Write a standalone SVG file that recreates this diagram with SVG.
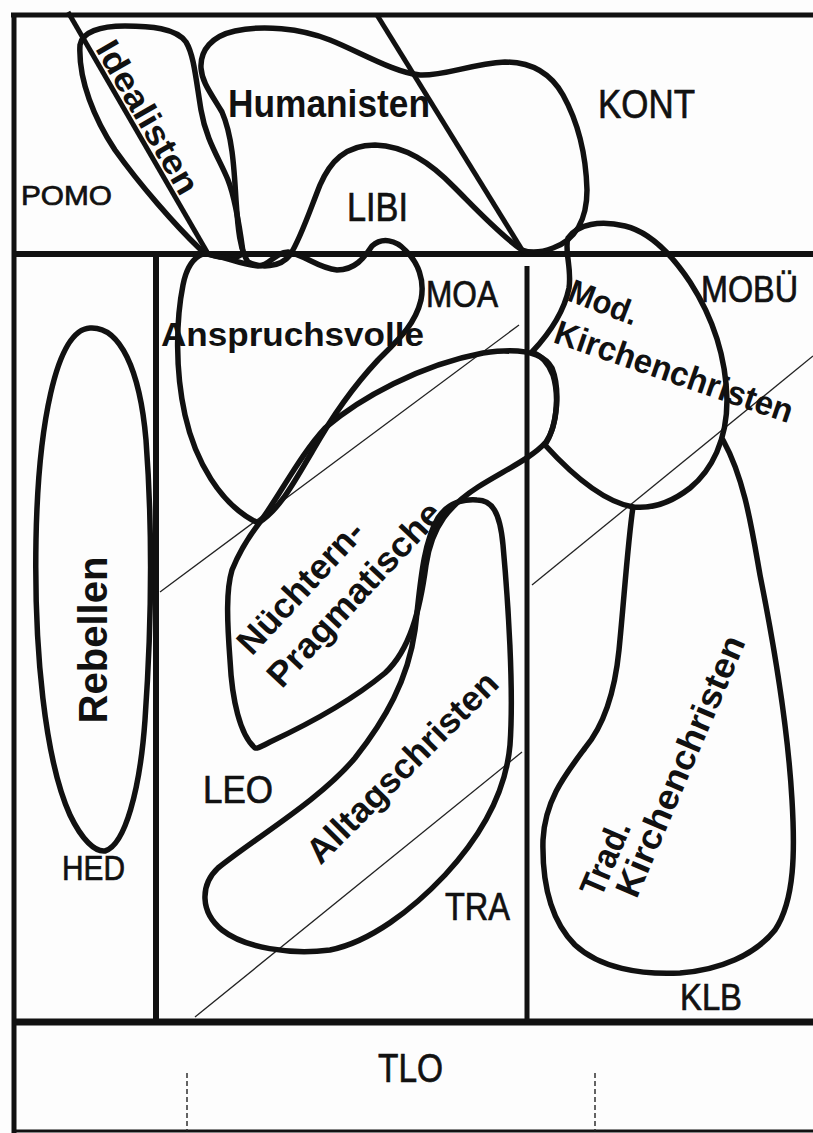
<svg xmlns="http://www.w3.org/2000/svg" width="813" height="1133" viewBox="0 0 813 1133">
<style>
.ln{stroke:#111;fill:none}
.sh{fill:none;stroke:#111;stroke-width:5.5;stroke-linejoin:round;stroke-linecap:round}
.thin{stroke:#222;stroke-width:1.3;fill:none}
.dash{stroke:#222;stroke-width:1.4;stroke-dasharray:5 3;fill:none}
.t{font-family:"Liberation Sans",Arial,sans-serif;fill:#111}
.r{stroke:#111;stroke-width:0.7}
.b{font-weight:bold}
</style>
<rect width="813" height="1133" fill="#fdfdfd"/>
<g id="frame">
<line class="ln" x1="11" y1="15" x2="813" y2="15" stroke-width="5"/>
<line class="ln" x1="14" y1="13" x2="14" y2="1133" stroke-width="5"/>
<line class="ln" x1="14" y1="254" x2="813" y2="254" stroke-width="6"/>
<line class="ln" x1="14" y1="1022" x2="813" y2="1022" stroke-width="7"/>
<line class="ln" x1="14" y1="1131" x2="813" y2="1131" stroke-width="3"/>
<line class="ln" x1="156" y1="254" x2="156" y2="1022" stroke-width="6"/>
<line class="ln" x1="527" y1="266" x2="527" y2="1022" stroke-width="5"/>
<line class="dash" x1="187" y1="1073" x2="187" y2="1131"/>
<line class="dash" x1="595" y1="1073" x2="595" y2="1131"/>
</g>
<g id="connectors">
<line class="thin" x1="160" y1="592" x2="519" y2="325"/>
<line class="thin" x1="195" y1="1017" x2="522" y2="752"/>
<line class="thin" x1="532" y1="585" x2="813" y2="356"/>
<line class="ln" x1="68" y1="12" x2="207" y2="252" stroke-width="5"/>
<line class="ln" x1="377" y1="15" x2="524" y2="253" stroke-width="5"/>
</g>
<g id="idealisten">
<path class="sh" d="M 80,45 C 82,32 100,26 125,26 C 150,26 176,28 186,42 C 194,55 196,80 201,110 C 206,140 220,160 228,180 C 236,200 240,230 243,252 C 240,260 215,260 200,249 C 175,225 140,185 115,150 C 95,120 78,80 80,45 Z"/>
<text class="t b" transform="translate(148,117) rotate(60)" text-anchor="middle" dy=".35em" font-size="34" textLength="172" lengthAdjust="spacingAndGlyphs">Idealisten</text>
</g>
<g id="humanisten">
<path class="sh" d="M 201,68 C 200,50 212,36 235,31 C 262,25 300,28 330,40 C 360,52 395,73 420,75 C 445,76 470,64 505,62 C 530,62 550,72 563,95 C 578,122 586,155 587,190 C 587,220 575,240 553,248 C 540,253 530,253 522,250 C 500,235 475,208 455,188 C 430,162 405,146 375,145 C 345,145 330,162 320,185 C 310,210 300,240 290,255 C 280,268 260,268 248,262 C 240,250 238,230 236,200 C 234,165 232,135 222,112 C 210,92 202,82 201,68 Z"/>
<text class="t b" x="228" y="117" font-size="38" textLength="202" lengthAdjust="spacingAndGlyphs">Humanisten</text>
</g>
<g id="anspruchsvolle">
<path class="sh" d="M 183,285 C 176,320 175,370 185,415 C 195,460 220,505 258,523 C 280,510 295,480 312,452 C 330,420 350,390 378,360 C 398,340 415,325 421,300 C 425,280 418,262 405,250 C 396,240 382,237 372,246 C 364,258 355,270 337,270 C 318,268 305,255 288,252 C 275,252 270,266 258,266 C 240,265 220,254 203,254 C 192,258 186,270 183,285 Z"/>
<text class="t b" x="161" y="346" font-size="33" textLength="263" lengthAdjust="spacingAndGlyphs">Anspruchsvolle</text>
</g>
<g id="nuechtern">
<path class="sh" d="M 255,748 C 240,735 232,700 230,660 C 227,620 226,590 232,570 C 240,550 250,535 260,522 C 280,495 300,455 325,428 C 360,398 420,365 483,353 C 515,348 542,350 552,368 C 560,388 558,425 546,442 C 532,458 505,470 478,487 C 450,505 432,525 426,565 C 420,610 410,650 385,673 C 350,702 300,728 270,742 C 262,746 258,749 255,748 Z"/>
<text class="t b" transform="translate(300,587) rotate(-47)" text-anchor="middle" dy=".35em" font-size="35" textLength="168" lengthAdjust="spacingAndGlyphs">Nüchtern-</text>
<text class="t b" transform="translate(354,594) rotate(-47)" text-anchor="middle" dy=".35em" font-size="35" textLength="238" lengthAdjust="spacingAndGlyphs">Pragmatische</text>
</g>
<g id="alltagschristen">
<path class="sh" d="M 477,500 C 492,500 500,512 503,545 C 508,600 514,690 510,745 C 506,790 482,835 445,875 C 412,910 370,942 330,950 C 290,955 245,948 222,930 C 200,912 200,885 218,868 C 255,838 320,800 355,758 C 385,720 408,680 415,630 C 420,590 422,545 438,518 C 448,503 462,499 477,500 Z"/>
<text class="t b" transform="translate(402,767) rotate(-45)" text-anchor="middle" dy=".35em" font-size="35" textLength="255" lengthAdjust="spacingAndGlyphs">Alltagschristen</text>
</g>
<g id="modkirchenchristen">
<path class="sh" d="M 568,238 C 578,224 600,220 625,226 C 650,232 672,255 690,282 C 712,316 726,355 727,400 C 727,440 712,470 690,488 C 672,502 652,509 633,507 C 605,502 575,478 545,445 C 556,428 560,398 553,375 C 548,362 540,355 532,352 C 548,335 564,312 569,288 C 572,268 564,250 568,238 Z"/>
<text class="t b" transform="translate(566,300) rotate(21)" font-size="33" textLength="72" lengthAdjust="spacingAndGlyphs">Mod.</text>
<text class="t b" transform="translate(552,342) rotate(19)" font-size="34" textLength="250" lengthAdjust="spacingAndGlyphs">Kirchenchristen</text>
</g>
<g id="tradkirchenchristen">
<path class="sh" d="M 633,507 C 628,540 624,600 619,650 C 614,700 600,730 585,748 C 565,775 545,800 543,840 C 542,880 550,920 575,945 C 600,968 640,975 680,973 C 720,970 755,955 775,930 C 795,900 795,850 792,800 C 788,730 775,650 760,575 C 752,530 745,480 723,440"/>
<text class="t b" transform="translate(605,858) rotate(-67)" text-anchor="middle" dy=".35em" font-size="35" textLength="78" lengthAdjust="spacingAndGlyphs">Trad.</text>
<text class="t b" transform="translate(680,766) rotate(-67)" text-anchor="middle" dy=".35em" font-size="35" textLength="280" lengthAdjust="spacingAndGlyphs">Kirchenchristen</text>
</g>
<g id="rebellen">
<path class="sh" d="M 90,328 C 55,330 38,430 36,540 C 34,650 45,760 70,815 C 82,840 95,852 105,851 C 125,845 140,790 145,720 C 152,620 152,520 146,440 C 140,370 120,326 90,328 Z"/>
<text class="t b" transform="translate(107,640) rotate(-90)" text-anchor="middle" font-size="40" textLength="167" lengthAdjust="spacingAndGlyphs">Rebellen</text>
</g>
<g id="labels">
<text id="pomo" class="t r" x="21" y="205" font-size="28" textLength="91" lengthAdjust="spacingAndGlyphs">POMO</text>
<text id="kont" class="t r" x="598" y="118" font-size="41" textLength="97" lengthAdjust="spacingAndGlyphs">KONT</text>
<text id="libi" class="t r" x="347" y="221" font-size="40" textLength="61" lengthAdjust="spacingAndGlyphs">LIBI</text>
<text id="moa" class="t r" x="426" y="307" font-size="37" textLength="72" lengthAdjust="spacingAndGlyphs">MOA</text>
<text id="mobue" class="t r" x="701" y="302" font-size="37" textLength="97" lengthAdjust="spacingAndGlyphs">MOBÜ</text>
<text id="leo" class="t r" x="203" y="803" font-size="38" textLength="70" lengthAdjust="spacingAndGlyphs">LEO</text>
<text id="hed" class="t r" x="62" y="880" font-size="35" textLength="63" lengthAdjust="spacingAndGlyphs">HED</text>
<text id="tra" class="t r" x="445" y="920" font-size="38" textLength="65" lengthAdjust="spacingAndGlyphs">TRA</text>
<text id="klb" class="t r" x="680" y="1010" font-size="37" textLength="62" lengthAdjust="spacingAndGlyphs">KLB</text>
<text id="tlo" class="t r" x="378" y="1082" font-size="40" textLength="65" lengthAdjust="spacingAndGlyphs">TLO</text>
</g>
</svg>
